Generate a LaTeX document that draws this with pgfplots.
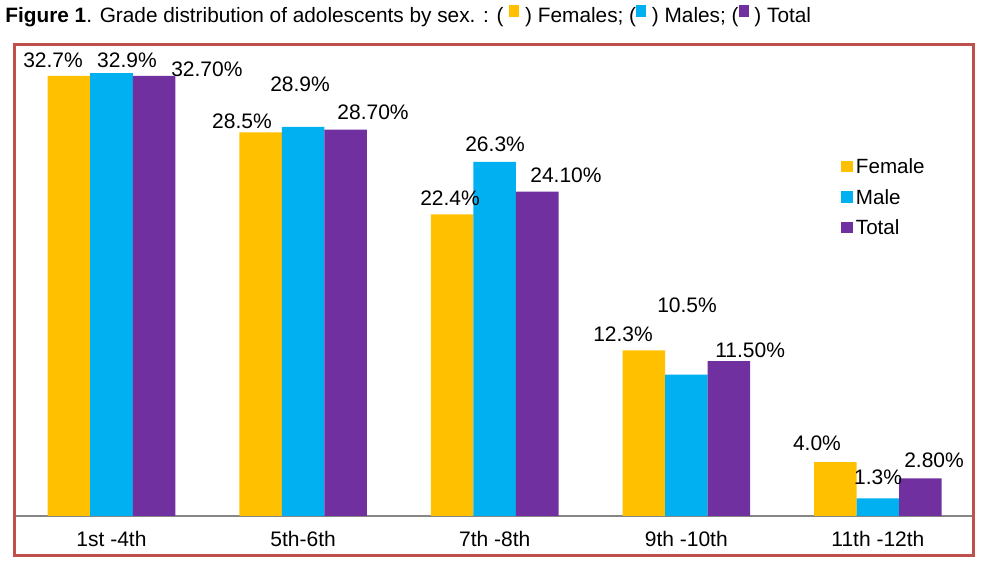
\documentclass[border=0pt]{standalone}
\usepackage{fontspec}
\setmainfont{Liberation Sans}
\usepackage{pgfplots}
\usepackage{pgfplotstable}
\pgfplotsset{compat=1.18}
\definecolor{fem}{HTML}{FFC000}
\definecolor{mal}{HTML}{00B0F0}
\definecolor{tot}{HTML}{7030A0}
\definecolor{frame}{HTML}{C0504D}
\definecolor{axl}{HTML}{868686}
\newcommand\sq[1]{\textcolor{#1}{\rule[2.8pt]{5pt}{6pt}}}

\pgfplotstableread{
x female male total
0 32.7 32.9 32.7
1 28.5 28.9 28.7
2 22.4 26.3 24.1
3 12.3 10.5 11.5
4 4.0 1.3 2.8
}\grades

\pgfplotstableread{
x y label
-0.305 33.32 32.7
0.081 33.32 32.9
0.498 32.65 32.70
0.681 28.79 28.5
0.984 31.54 28.9
1.365 29.45 28.70
1.767 23.10 22.4
2.002 27.04 26.3
2.372 24.77 24.10
2.670 12.96 12.3
3.004 15.12 10.5
3.333 11.77 11.50
3.682 4.86 4.0
4.001 2.34 1.3
4.293 3.60 2.80
}\labels

\begin{document}
\begin{tikzpicture}
\path[use as bounding box] (0,0) rectangle (497pt,288.5pt);
\begin{axis}[
  at={(7.85pt,30.5pt)}, anchor=south west,
  scale only axis, width=479pt, height=235.6pt,
  xmin=-0.5, xmax=4.5, ymin=0, ymax=35,
  axis x line*=bottom, axis y line*=left,
  y axis line style={draw=none},
  x axis line style={draw=axl, line width=1pt, -},
  ytick=\empty,
  xtick={0,1,2,3,4},
  xticklabels={1st -4th, 5th-6th, 7th -8th, 9th -10th, 11th -12th},
  major tick length=0pt,
  xticklabel style={font=\fontsize{10.5}{12}\selectfont, yshift=-4pt},
  clip=false,
  legend image code/.code={\fill[#1] (0pt,-2.9pt) rectangle (5.8pt,2.9pt);},
  legend style={at={(0.861,0.757)}, anchor=north west, draw=none, fill=none,
    inner sep=0pt, row sep=8.2pt,
    font=\fontsize{10.3}{12}\selectfont,
    nodes={inner sep=0pt, text height=7pt, text depth=0pt}},
  legend cell align=left,
]
\addplot[ybar, bar width=0.222, bar shift=-0.222, fill=fem, draw=none] table[x=x,y=female]{\grades};
\addlegendentry{\,Female}
\addplot[ybar, bar width=0.222, bar shift=0, fill=mal, draw=none] table[x=x,y=male]{\grades};
\addlegendentry{\,Male}
\addplot[ybar, bar width=0.222, bar shift=0.222, fill=tot, draw=none] table[x=x,y=total]{\grades};
\addlegendentry{\,Total}
\addplot[draw=none, mark=none, forget plot,
  nodes near coords={\pgfplotspointmeta\%}, point meta=explicit symbolic,
  every node near coord/.append style={anchor=base, inner sep=0pt, text=black,
    font=\fontsize{10.5}{12}\selectfont}]
  table[x=x,y=y,meta=label]{\labels};
\end{axis}
\draw[frame, line width=1.5pt] (7.25pt,10.5pt) rectangle (486.75pt,266.25pt);
\node[anchor=base west, inner sep=0pt, font=\fontsize{10.4}{12}\selectfont] at (2.5pt,277pt)
  {\textbf{Figure 1}. Grade distribution of adolescents by sex. : ( \sq{fem} ) Females; (\sq{mal} ) Males; (\sq{tot} ) Total};
\end{tikzpicture}
\end{document}
